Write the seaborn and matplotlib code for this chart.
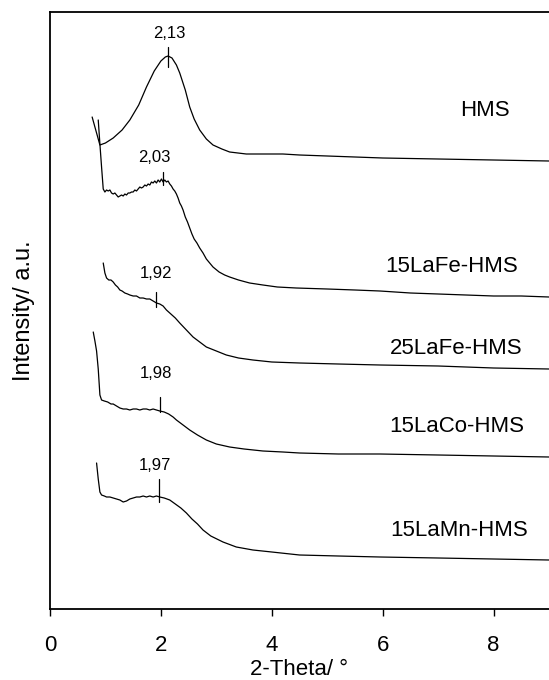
import matplotlib
matplotlib.use("Agg")
import matplotlib.pyplot as plt
import seaborn as sns
import pandas as pd

# 2-theta positions (deg) and intensities (a.u., stacked offsets included)
hms_x = [0.76, 0.83, 0.90, 1.00, 1.14, 1.30, 1.44, 1.60, 1.74, 1.88, 2.00, 2.08, 2.13,
         2.20, 2.28, 2.34, 2.44, 2.52, 2.60, 2.70, 2.82, 2.94, 3.10, 3.24, 3.54, 3.90,
         4.20, 4.50, 5.00, 5.50, 6.00, 7.00, 8.00, 9.00]
hms_y = [492, 478, 464, 466, 471, 479, 489, 504, 522, 538, 548, 552, 553,
         551, 544, 536, 519, 502, 490, 479, 470, 464, 460, 457, 455, 455,
         455, 454, 453, 452, 451, 450, 449, 448]

lafe15_x = [0.87, 0.90, 0.93, 0.96, 0.99, 1.02, 1.05, 1.08, 1.11, 1.14, 1.17, 1.20, 1.23,
            1.26, 1.29, 1.32, 1.35, 1.38, 1.41, 1.44, 1.47, 1.50, 1.53, 1.56, 1.59, 1.62,
            1.65, 1.68, 1.71, 1.74, 1.77, 1.80, 1.83, 1.86, 1.89, 1.92, 1.95, 1.98, 2.01,
            2.04, 2.07, 2.10, 2.13, 2.16, 2.19, 2.22, 2.25, 2.28, 2.31, 2.34, 2.37, 2.40,
            2.44, 2.48, 2.52, 2.56, 2.60, 2.65, 2.70, 2.76, 2.82, 2.88, 2.94, 3.05, 3.15,
            3.24, 3.40, 3.60, 3.84, 4.10, 4.44, 5.00, 5.50, 5.95, 6.50, 7.00, 7.50, 8.00,
            8.50, 9.00]
lafe15_y = [489, 465, 442, 420, 417, 419, 418, 419, 416, 415, 416, 414, 412,
            413, 414, 413, 415, 414, 416, 416, 417, 417, 419, 418, 420, 422,
            421, 422, 424, 423, 425, 424, 427, 426, 428, 426, 429, 427, 430,
            427, 429, 427, 428, 425, 423, 420, 418, 415, 411, 406, 403, 399,
            392, 387, 381, 375, 370, 366, 361, 356, 350, 346, 342, 337, 334,
            332, 329, 326, 324, 322, 321, 320, 319, 318, 316, 315, 314, 313,
            313, 312]

lafe25_x = [0.96, 0.99, 1.02, 1.06, 1.10, 1.14, 1.18, 1.22, 1.26, 1.30, 1.35, 1.40, 1.44,
            1.50, 1.56, 1.62, 1.68, 1.74, 1.80, 1.86, 1.92, 1.98, 2.04, 2.10, 2.18, 2.26,
            2.34, 2.46, 2.58, 2.70, 2.82, 3.00, 3.18, 3.40, 3.66, 4.00, 4.50, 5.20, 5.95,
            7.00, 8.00, 9.00]
lafe25_y = [346, 336, 331, 329, 329, 327, 324, 322, 319, 318, 316, 315, 314,
            313, 313, 311, 311, 310, 310, 308, 306, 305, 303, 299, 295, 291,
            286, 279, 272, 267, 262, 258, 254, 251, 249, 247, 246, 245, 244,
            243, 241, 240]

laco15_x = [0.78, 0.81, 0.84, 0.87, 0.90, 0.93, 0.98, 1.04, 1.10, 1.14, 1.20, 1.26, 1.32,
            1.38, 1.44, 1.50, 1.56, 1.62, 1.68, 1.74, 1.80, 1.86, 1.92, 1.98, 2.06, 2.14,
            2.22, 2.28, 2.40, 2.52, 2.66, 2.82, 3.00, 3.24, 3.50, 3.84, 4.20, 4.50, 5.20,
            5.95, 7.00, 8.00, 9.00]
laco15_y = [277, 268, 258, 240, 214, 209, 208, 207, 205, 205, 203, 201, 200,
            200, 199, 200, 200, 199, 200, 200, 199, 200, 199, 198, 197, 195,
            192, 189, 184, 179, 174, 169, 165, 162, 160, 158, 157, 156, 155,
            155, 154, 153, 152]

lamn15_x = [0.84, 0.87, 0.90, 0.93, 0.98, 1.02, 1.08, 1.14, 1.20, 1.26, 1.32, 1.38, 1.44,
            1.50, 1.56, 1.62, 1.68, 1.74, 1.80, 1.86, 1.92, 1.98, 2.06, 2.16, 2.26, 2.36,
            2.46, 2.56, 2.66, 2.76, 2.90, 3.12, 3.36, 3.66, 4.00, 4.50, 5.20, 5.95, 7.00,
            8.00, 9.00]
lamn15_y = [146, 130, 117, 114, 113, 112, 112, 111, 110, 109, 107, 108, 110,
            111, 112, 112, 113, 112, 113, 112, 113, 112, 111, 109, 105, 101,
            96, 90, 85, 79, 73, 67, 62, 59, 57, 54, 53, 52, 51,
            50, 49]

sample_names = ["HMS", "15LaFe-HMS", "25LaFe-HMS", "15LaCo-HMS", "15LaMn-HMS"]
series_x = [hms_x, lafe15_x, lafe25_x, laco15_x, lamn15_x]
series_y = [hms_y, lafe15_y, lafe25_y, laco15_y, lamn15_y]

# peak positions quoted on each pattern
peak_pos = [2.13, 2.03, 1.92, 1.98, 1.97]
peak_text = ["2,13", "2,03", "1,92", "1,98", "1,97"]

sns.set_style("white")
plt.rcParams["font.family"] = ["Liberation Sans", "DejaVu Sans"]
plt.rcParams["text.color"] = "black"
plt.rcParams["axes.labelcolor"] = "black"

fig = plt.figure(figsize=(5.49, 6.80), dpi=100)
ax = fig.add_axes([50 / 549, 71 / 680, 499 / 549, 597 / 680])

frames = []
for name, xs, ys in zip(sample_names, series_x, series_y):
    frames.append(pd.DataFrame({"theta": xs, "intensity": ys, "sample": name}))
data = pd.concat(frames, ignore_index=True)

for name in sample_names:
    sub = data[data["sample"] == name]
    sns.lineplot(data=sub, x="theta", y="intensity", color="black", linewidth=0.9,
                 estimator=None, sort=False, ax=ax)

# sample names
name_pos = [(7.84, 499), (7.24, 342), (7.32, 261), (7.34, 182), (7.37, 79)]
for name, (tx, ty) in zip(sample_names, name_pos):
    ax.text(tx, ty, name, ha="center", va="center", fontsize=16, color="black")

# peak markers and values
marker_span = [(542, 562), (424, 437), (302, 317), (197, 212), (107, 130)]
text_pos = [(2.15, 576), (1.89, 452), (1.91, 335), (1.91, 235), (1.89, 144)]
for px, (y0, y1), lab, (tx, ty) in zip(peak_pos, marker_span, peak_text, text_pos):
    ax.plot([px, px], [y0, y1], color="black", linewidth=0.9)
    ax.text(tx, ty, lab, ha="center", va="center", fontsize=12, color="black")

ax.set_xlim(0, 9)
ax.set_ylim(0, 597)
ax.set_xticks([0, 2, 4, 6, 8])
ax.set_yticks([])
ax.tick_params(axis="x", direction="out", length=5, width=1.0, pad=14,
               labelsize=16, bottom=True, colors="black")
ax.set_xlabel("2-Theta/ °", fontsize=16, labelpad=2)
ax.set_ylabel("Intensity/ a.u.", fontsize=17)
ax.yaxis.set_label_coords(-0.03, 0.5)

for side in ["left", "bottom", "top"]:
    ax.spines[side].set_visible(True)
    ax.spines[side].set_color("black")
    ax.spines[side].set_linewidth(1.3)
ax.spines["right"].set_visible(False)

fig.savefig("out.png", dpi=100)
